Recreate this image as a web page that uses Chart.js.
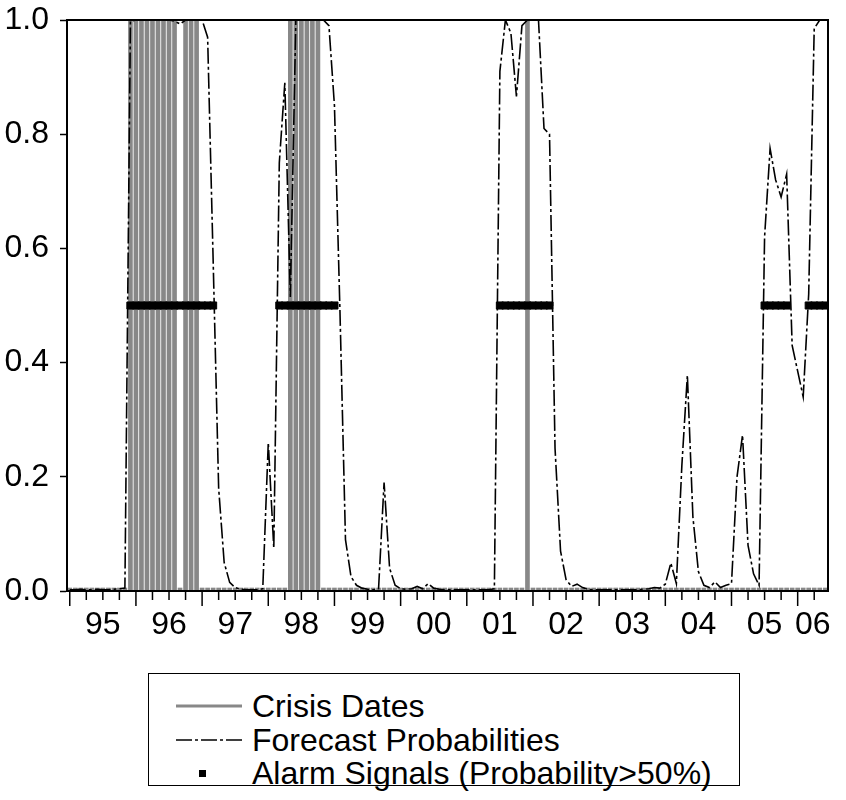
<!DOCTYPE html>
<html>
<head>
<meta charset="utf-8">
<script src="https://cdn.jsdelivr.net/npm/chart.js@4.4.1/dist/chart.umd.min.js"></script>
<style>
  body { margin: 0; background: #fff; }
  #wrap { position: relative; width: 846px; height: 800px; }
  #legend {
    position: absolute; left: 148px; top: 673px; width: 590px; height: 111px;
    border: 1.5px solid #000; font: 32px "Liberation Sans", Arial, sans-serif; color: #000;
  }
  .row { position: absolute; left: 0; height: 34px; display: flex; align-items: center; white-space: nowrap; }
  .row svg { margin-left: 27px; margin-right: 10px; }
</style>
</head>
<body>
<div id="wrap">
  <canvas id="chart" width="846" height="640"></canvas>
  <div id="legend">
    <div class="row" style="top: 15px">
      <svg width="66" height="20"><line x1="0" y1="10" x2="66" y2="10" stroke="#888" stroke-width="3"/></svg>
      <span>Crisis Dates</span>
    </div>
    <div class="row" style="top: 49px">
      <svg width="66" height="20"><line x1="0" y1="10" x2="66" y2="10" stroke="#000" stroke-width="1.5" stroke-dasharray="16 3 3 3"/></svg>
      <span>Forecast Probabilities</span>
    </div>
    <div class="row" style="top: 82px">
      <svg width="66" height="20"><rect x="23" y="7" width="7" height="7" fill="#000"/></svg>
      <span>Alarm Signals (Probability&gt;50%)</span>
    </div>
  </div>
</div>
<script>
// monthly sample 1995M01 - 2006M06
const startYear = 1995
const monthCount = 138
const months = []
for (let i = 0; i < monthCount; i++) {
  const y = startYear + Math.floor(i / 12)
  const m = (i % 12) + 1
  months.push(`${y}M${String(m).padStart(2, '0')}`)
}

const yearLabels = ['95', '96', '97', '98', '99', '00', '01', '02', '03', '04', '05', '06']

// forecast probabilities, one row per year
const forecastProb = [
  0.002, 0.002, 0.003, 0.002, 0.002, 0.003, 0.002, 0.002, 0.003, 0.004, 0.005, 0.998,
  1.0, 1.0, 1.0, 1.0, 1.0, 1.0, 1.0, 0.998, 0.993, 1.0, 1.0, 1.0,
  1.0, 0.97, 0.58, 0.18, 0.05, 0.015, 0.006, 0.003, 0.002, 0.002, 0.002, 0.004,
  0.26, 0.075, 0.75, 0.89, 0.515, 1.0, 1.0, 1.0, 1.0, 1.0, 1.0, 0.99,
  0.85, 0.49, 0.09, 0.025, 0.01, 0.005, 0.003, 0.002, 0.004, 0.19, 0.04, 0.01,
  0.004, 0.003, 0.004, 0.008, 0.004, 0.013, 0.005, 0.003, 0.002, 0.002, 0.002, 0.002,
  0.002, 0.002, 0.002, 0.002, 0.002, 0.004, 0.91, 1.0, 0.977, 0.866, 0.99, 1.0,
  1.0, 1.0, 0.81, 0.80, 0.25, 0.07, 0.02, 0.008, 0.012, 0.006, 0.003, 0.002,
  0.002, 0.002, 0.002, 0.002, 0.002, 0.002, 0.002, 0.002, 0.003, 0.004, 0.006, 0.005,
  0.012, 0.049, 0.013, 0.22, 0.378, 0.13, 0.034, 0.01, 0.006, 0.016, 0.006, 0.01,
  0.013, 0.2, 0.273, 0.08, 0.03, 0.01, 0.62, 0.775, 0.72, 0.69, 0.73, 0.43,
  0.385, 0.34, 0.52, 0.985, 1.0, 1.0
]

// crisis months (inclusive ranges)
const crisisPeriods = [
  ['1995M12', '1996M08'],
  ['1996M10', '1996M12'],
  ['1998M05', '1998M10'],
  ['2001M12', '2001M12']
]

// months with alarm signal (probability > 50%)
const alarmPeriods = [
  ['1995M12', '1997M03'],
  ['1998M03', '1999M01'],
  ['2001M07', '2002M04'],
  ['2005M07', '2005M11'],
  ['2006M03', '2006M06']
]

const inPeriods = (m, periods) => periods.some(([a, b]) => m >= a && m <= b)

const crisisData = months.map((m, i) => ({ x: i, y: inPeriods(m, crisisPeriods) ? 1 : 0 }))
const forecastData = forecastProb.map((v, i) => ({ x: i, y: v }))
const alarmData = months.map((m, i) => ({ x: i, y: inPeriods(m, alarmPeriods) ? 0.5 : null }))

const xMin = -0.5
const xMax = monthCount - 0.5

// year label sits in the middle of its (possibly partial) year
const yearLabelPos = yearLabels.map((l, k) => (k * 12 + Math.min((k + 1) * 12, xMax)) / 2)

// quarterly tick marks under the x axis, long ones at January
const quarterTicks = {
  id: 'quarterTicks',
  afterDraw(chart) {
    const { ctx, chartArea, scales } = chart
    ctx.save()
    ctx.strokeStyle = '#000'
    ctx.lineWidth = 1.5
    months.forEach((m, i) => {
      if (i % 3 !== 0) return
      const x = scales.x.getPixelForValue(i)
      const len = i % 12 === 0 ? 15 : 9
      ctx.beginPath()
      ctx.moveTo(x, chartArea.bottom)
      ctx.lineTo(x, chartArea.bottom + len)
      ctx.stroke()
    })
    ctx.restore()
  }
}

// box around the plot area
const frame = {
  id: 'frame',
  afterDatasetsDraw(chart) {
    const { ctx, chartArea } = chart
    ctx.save()
    ctx.strokeStyle = '#000'
    ctx.lineWidth = 2
    ctx.strokeRect(chartArea.left, chartArea.top, chartArea.right - chartArea.left, chartArea.bottom - chartArea.top)
    ctx.restore()
  }
}

Chart.defaults.font.family = '"Liberation Sans", Arial, sans-serif'
Chart.defaults.color = '#000'

new Chart(document.getElementById('chart'), {
  type: 'line',
  data: {
    datasets: [
      {
        label: 'Alarm Signals (Probability>50%)',
        data: alarmData,
        showLine: false,
        pointStyle: 'rect',
        pointRadius: 5,
        backgroundColor: '#000',
        borderColor: '#000',
        borderWidth: 1
      },
      {
        label: 'Forecast Probabilities',
        data: forecastData,
        borderColor: '#000',
        borderWidth: 1.6,
        borderDash: [16, 3, 3, 3],
        pointRadius: 0,
        tension: 0,
        fill: false
      },
      {
        type: 'bar',
        label: 'Crisis Dates',
        data: crisisData,
        backgroundColor: '#888',
        barThickness: 4,
        minBarLength: 3
      }
    ]
  },
  options: {
    responsive: false,
    animation: false,
    devicePixelRatio: 1,
    layout: { padding: { top: 20, right: 18, left: 0, bottom: 0 } },
    plugins: { legend: { display: false }, tooltip: { enabled: false } },
    scales: {
      x: {
        type: 'linear',
        offset: false,
        min: xMin,
        max: xMax,
        grid: { display: false, offset: false },
        border: { display: true, color: '#000', width: 2 },
        afterBuildTicks: (axis) => {
          axis.ticks = yearLabelPos.map((v) => ({ value: v }))
        },
        afterFit: (axis) => {
          axis.height = 49
          axis.paddingLeft = 0
          axis.paddingRight = 0
        },
        ticks: {
          autoSkip: false,
          maxRotation: 0,
          padding: 7,
          font: { size: 32 },
          callback: (v) => yearLabels[yearLabelPos.indexOf(v)]
        }
      },
      y: {
        min: 0,
        max: 1,
        grid: { drawOnChartArea: false, drawTicks: true, tickLength: 7, tickColor: '#000', tickWidth: 1.5 },
        border: { display: true, color: '#000', width: 2 },
        afterFit: (axis) => {
          axis.width = 67
          axis.paddingTop = 0
          axis.paddingBottom = 0
        },
        ticks: {
          stepSize: 0.2,
          padding: 11,
          font: { size: 32 },
          callback: (v) => v.toFixed(1)
        }
      }
    }
  },
  plugins: [quarterTicks, frame]
})
</script>
</body>
</html>
